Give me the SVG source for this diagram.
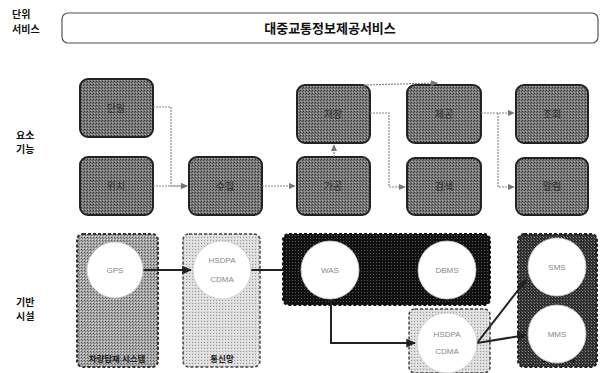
<svg xmlns="http://www.w3.org/2000/svg" width="613" height="373" viewBox="0 0 613 373">
<defs>
<pattern id="pTop" width="3" height="3" patternUnits="userSpaceOnUse">
<rect width="3" height="3" fill="#7a7a7a"/><rect width="1" height="1" fill="#333"/><rect x="2" y="1" width="1" height="1" fill="#505050"/><rect x="1" y="2" width="1" height="1" fill="#aaa"/>
</pattern>
<pattern id="pA" width="3" height="3" patternUnits="userSpaceOnUse">
<rect width="3" height="3" fill="#a8a8a8"/><rect width="1" height="1" fill="#555"/><rect x="2" y="2" width="1" height="1" fill="#d8d8d8"/><rect x="1" y="1" width="1" height="1" fill="#777"/>
</pattern>
<pattern id="pB" width="3" height="3" patternUnits="userSpaceOnUse">
<rect width="3" height="3" fill="#dcdcdc"/><rect width="1" height="1" fill="#999"/><rect x="2" y="1" width="1" height="1" fill="#f2f2f2"/>
</pattern>
<pattern id="pC" width="3" height="3" patternUnits="userSpaceOnUse">
<rect width="3" height="3" fill="#111"/><rect x="1" y="1" width="1" height="1" fill="#555"/>
</pattern>
<pattern id="pE" width="3" height="3" patternUnits="userSpaceOnUse">
<rect width="3" height="3" fill="#2e2e2e"/><rect width="1" height="1" fill="#8a8a8a"/><rect x="2" y="2" width="1" height="1" fill="#5a5a5a"/>
</pattern>
<marker id="ag" viewBox="0 0 8 8" refX="7" refY="4" markerWidth="6" markerHeight="6" orient="auto">
<path d="M0,0.5 L8,4 L0,7.5 z" fill="#777"/>
</marker>
<marker id="ak" viewBox="0 0 8 8" refX="7" refY="4" markerWidth="5" markerHeight="5" orient="auto">
<path d="M0,0.5 L8,4 L0,7.5 z" fill="#222"/>
</marker>
</defs>
<style>
.lbl{font-family:"Noto Sans CJK KR","Liberation Sans",sans-serif;font-size:10px;fill:#111;font-weight:bold}
.title{font-family:"Noto Sans CJK KR","Liberation Sans",sans-serif;font-size:13px;fill:#111;font-weight:bold}
.fb{fill:url(#pTop);stroke:#222;stroke-width:2}
.ft{font-family:"Noto Sans CJK KR","Liberation Sans",sans-serif;font-size:10px;fill:#333;text-anchor:middle}
.ct{font-family:"Liberation Sans","Noto Sans CJK KR",sans-serif;font-size:8px;fill:#888;text-anchor:middle}
.cir{fill:#fff;stroke:#ccc;stroke-width:0.8}
.gl{fill:none;stroke:#888;stroke-width:1.2;stroke-dasharray:2 1}
.kl{fill:none;stroke:#222;stroke-width:2}
.bt{font-family:"Noto Sans CJK KR","Liberation Sans",sans-serif;font-size:8.5px;fill:#222;font-weight:bold;text-anchor:middle}
</style>
<rect width="613" height="373" fill="#fff"/>
<g id="row-labels">
<text class="lbl" x="12" y="18">단위</text>
<text class="lbl" x="12" y="33">서비스</text>
<text class="lbl" x="16" y="139">요소</text>
<text class="lbl" x="16" y="153">기능</text>
<text class="lbl" x="16" y="306">기반</text>
<text class="lbl" x="16" y="320">시설</text>
</g>
<g id="service">
<rect x="62" y="13" width="536" height="30" rx="6" fill="#fff" stroke="#555" stroke-width="1.2"/>
<text class="title" x="330" y="33" text-anchor="middle">대중교통정보제공서비스</text>
</g>
<g id="f1"><rect class="fb" x="80" y="79" width="73" height="58" rx="8"/><text class="ft" x="116" y="112">단말</text></g>
<g id="f2"><rect class="fb" x="80" y="157" width="73" height="58" rx="8"/><text class="ft" x="116" y="190">위치</text></g>
<g id="f3"><rect class="fb" x="189" y="157" width="73" height="58" rx="8"/><text class="ft" x="225" y="190">수집</text></g>
<g id="f4"><rect class="fb" x="297" y="85" width="73" height="58" rx="8"/><text class="ft" x="333" y="118">저장</text></g>
<g id="f5"><rect class="fb" x="297" y="157" width="73" height="58" rx="8"/><text class="ft" x="333" y="190">가공</text></g>
<g id="f6"><rect class="fb" x="407" y="85" width="74" height="58" rx="8"/><text class="ft" x="444" y="118">제공</text></g>
<g id="f7"><rect class="fb" x="407" y="158" width="74" height="57" rx="8"/><text class="ft" x="444" y="190">검색</text></g>
<g id="f8"><rect class="fb" x="516" y="85" width="72" height="58" rx="8"/><text class="ft" x="552" y="118">조회</text></g>
<g id="f9"><rect class="fb" x="516" y="158" width="72" height="57" rx="8"/><text class="ft" x="552" y="190">알림</text></g>
<g id="vehicle"><rect x="77" y="234" width="81" height="133" rx="6" fill="url(#pA)" stroke="#333" stroke-width="2" stroke-dasharray="3 2"/><text class="bt" x="117" y="362">차량탑재 시스템</text></g>
<g id="network"><rect x="183" y="234" width="77" height="133" rx="6" fill="url(#pB)" stroke="#444" stroke-width="1.5" stroke-dasharray="3 2"/><text class="bt" x="222" y="362">통신망</text></g>
<g id="server"><rect x="283" y="234" width="207" height="71" rx="6" fill="url(#pC)" stroke="#111" stroke-width="2" stroke-dasharray="3 2"/></g>
<g id="network2"><rect x="409" y="309" width="81" height="64" rx="6" fill="url(#pB)" stroke="#444" stroke-width="1.5" stroke-dasharray="3 2"/></g>
<g id="msg-server"><rect x="518" y="234" width="79" height="133" rx="6" fill="url(#pE)" stroke="#222" stroke-width="2" stroke-dasharray="3 2"/><text class="bt" x="558" y="362" style="fill:#111">SMS서버</text></g>
<g id="connectors">
<path class="gl" d="M153,107 H171 V186 H187" marker-end="url(#ag)"/>
<path class="gl" d="M153,186 H187" marker-end="url(#ag)"/>
<path class="gl" d="M262,186 H295" marker-end="url(#ag)"/>
<path class="gl" d="M334,157 V145" marker-end="url(#ag)"/>
<path class="gl" d="M364,85 L437,83" marker-end="url(#ag)"/>
<path class="gl" d="M370,113 H389 V187 H405" marker-end="url(#ag)"/>
<path class="gl" d="M481,113 H514" marker-end="url(#ag)"/>
<path class="gl" d="M498,113 V187 H514" marker-end="url(#ag)"/>
<path class="kl" d="M143,270 H191" marker-end="url(#ak)"/>
<path class="kl" d="M251,270 H283"/>
<path class="kl" d="M331,299 V343 H415" marker-end="url(#ak)"/>
<path class="kl" d="M477,343 L526,280" marker-end="url(#ak)"/>
<path class="kl" d="M477,343 L526,335" marker-end="url(#ak)"/>
</g>
<g id="gps"><circle class="cir" cx="115" cy="270" r="28"/><text class="ct" x="115" y="273">GPS</text></g>
<g id="hsdpa1"><circle class="cir" cx="222" cy="270" r="29"/><text class="ct" x="222" y="263">HSDPA</text><text class="ct" x="222" y="282">CDMA</text></g>
<g id="was"><circle class="cir" cx="330" cy="270" r="29"/><text class="ct" x="330" y="273">WAS</text></g>
<g id="dbms"><circle class="cir" cx="447" cy="270" r="29"/><text class="ct" x="447" y="273">DBMS</text></g>
<g id="hsdpa2"><circle class="cir" cx="447" cy="343" r="30"/><text class="ct" x="447" y="337">HSDPA</text><text class="ct" x="447" y="354">CDMA</text></g>
<g id="sms"><circle class="cir" cx="557" cy="267" r="29"/><text class="ct" x="557" y="270">SMS</text></g>
<g id="mms"><circle class="cir" cx="557" cy="334" r="29"/><text class="ct" x="557" y="337">MMS</text></g>
</svg>
